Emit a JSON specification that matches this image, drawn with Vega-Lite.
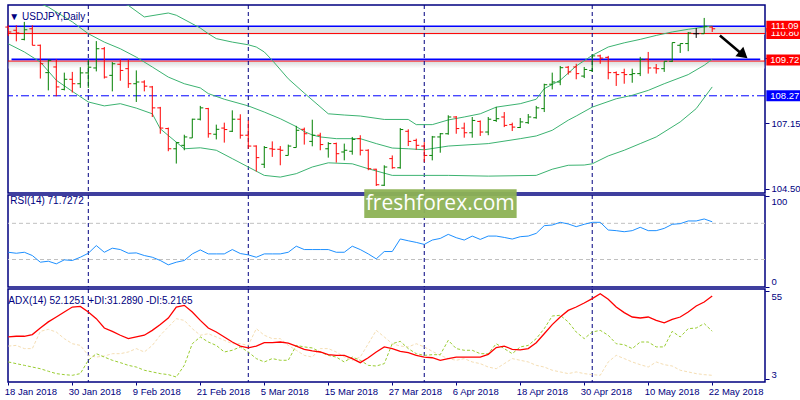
{
  "$schema": "https://vega.github.io/schema/vega-lite/v6.json",
  "description": "USDJPY daily bars with Bollinger bands, RSI(14) and ADX(14)",
  "background": "white",
  "padding": {"left": 3, "top": 3, "right": 0, "bottom": 0},
  "spacing": 2,
  "bounds": "flush",
  "config": {
    "view": {"stroke": "#000080", "strokeWidth": 1.5},
    "font": "Liberation Sans",
    "axis": {"labelFont": "Liberation Sans", "labelFontSize": 9.5, "labelColor": "#000080", "tickColor": "#000080", "domain": false, "grid": false},
    "title": {"font": "Liberation Sans", "fontSize": 10, "fontWeight": "normal", "color": "#000080", "anchor": "start", "baseline": "top"}
  },
  "resolve": {"scale": {"x": "independent", "y": "independent"}},
  "datasets": {
    "bars": [
      {"i":0,"d":"2018-01-18","o":111.06,"h":111.13,"l":110.70,"c":110.86,"rsi":38.0,"adx":27.9,"pdi":13.1,"mdi":22.5},
      {"i":1,"d":"2018-01-19","o":110.93,"h":111.13,"l":110.48,"c":110.82,"rsi":36.9,"adx":28.3,"pdi":12.1,"mdi":22.9},
      {"i":2,"d":"2018-01-22","o":110.56,"h":111.27,"l":110.52,"c":110.95,"rsi":38.0,"adx":28.3,"pdi":11.1,"mdi":21.0},
      {"i":3,"d":"2018-01-23","o":110.99,"h":111.13,"l":110.32,"c":110.32,"rsi":34.4,"adx":29.3,"pdi":10.1,"mdi":21.0},
      {"i":4,"d":"2018-01-24","o":110.32,"h":110.35,"l":108.97,"c":109.57,"rsi":27.0,"adx":33.2,"pdi":9.1,"mdi":31.2},
      {"i":5,"d":"2018-01-25","o":109.21,"h":109.75,"l":108.49,"c":109.71,"rsi":28.1,"adx":36.8,"pdi":7.6,"mdi":32.4},
      {"i":6,"d":"2018-01-26","o":109.44,"h":109.75,"l":108.25,"c":108.63,"rsi":25.2,"adx":39.7,"pdi":6.2,"mdi":30.8},
      {"i":7,"d":"2018-01-29","o":108.53,"h":109.21,"l":108.49,"c":108.94,"rsi":29.6,"adx":42.7,"pdi":5.6,"mdi":26.9},
      {"i":8,"d":"2018-01-30","o":108.94,"h":109.24,"l":108.40,"c":108.76,"rsi":28.9,"adx":45.6,"pdi":5.2,"mdi":23.9},
      {"i":9,"d":"2018-01-31","o":108.76,"h":109.43,"l":108.59,"c":109.20,"rsi":32.5,"adx":46.0,"pdi":6.2,"mdi":22.9},
      {"i":10,"d":"2018-02-01","o":109.20,"h":109.75,"l":108.59,"c":109.43,"rsi":36.9,"adx":42.7,"pdi":14.1,"mdi":17.0},
      {"i":11,"d":"2018-02-02","o":109.40,"h":110.49,"l":109.26,"c":110.18,"rsi":45.4,"adx":38.7,"pdi":18.0,"mdi":16.0},
      {"i":12,"d":"2018-02-05","o":110.18,"h":110.25,"l":108.97,"c":109.03,"rsi":38.0,"adx":33.2,"pdi":16.0,"mdi":16.6},
      {"i":13,"d":"2018-02-06","o":109.10,"h":109.64,"l":108.45,"c":109.57,"rsi":42.5,"adx":31.2,"pdi":14.1,"mdi":18.0},
      {"i":14,"d":"2018-02-07","o":109.55,"h":109.75,"l":108.88,"c":109.30,"rsi":41.0,"adx":28.9,"pdi":12.7,"mdi":18.0},
      {"i":15,"d":"2018-02-08","o":109.37,"h":109.75,"l":108.59,"c":108.76,"rsi":36.9,"adx":26.9,"pdi":11.1,"mdi":19.0},
      {"i":16,"d":"2018-02-09","o":108.76,"h":109.30,"l":108.02,"c":108.83,"rsi":37.3,"adx":27.9,"pdi":10.1,"mdi":21.0},
      {"i":17,"d":"2018-02-12","o":108.83,"h":108.90,"l":108.45,"c":108.66,"rsi":34.4,"adx":28.9,"pdi":8.2,"mdi":19.0},
      {"i":18,"d":"2018-02-13","o":108.63,"h":108.67,"l":107.41,"c":107.78,"rsi":32.5,"adx":31.8,"pdi":7.2,"mdi":22.9},
      {"i":19,"d":"2018-02-14","o":107.78,"h":107.82,"l":106.73,"c":106.96,"rsi":28.9,"adx":35.2,"pdi":6.2,"mdi":28.9},
      {"i":20,"d":"2018-02-15","o":106.94,"h":106.98,"l":106.02,"c":106.12,"rsi":24.1,"adx":39.1,"pdi":5.6,"mdi":33.8},
      {"i":21,"d":"2018-02-16","o":106.12,"h":106.39,"l":105.52,"c":106.37,"rsi":27.0,"adx":45.6,"pdi":4.2,"mdi":38.7},
      {"i":22,"d":"2018-02-19","o":106.26,"h":106.69,"l":106.06,"c":106.60,"rsi":28.9,"adx":46.6,"pdi":11.1,"mdi":37.7},
      {"i":23,"d":"2018-02-20","o":106.56,"h":107.34,"l":106.56,"c":107.32,"rsi":36.2,"adx":42.7,"pdi":23.9,"mdi":32.8},
      {"i":24,"d":"2018-02-21","o":107.32,"h":107.86,"l":107.27,"c":107.78,"rsi":40.6,"adx":37.7,"pdi":27.9,"mdi":28.9},
      {"i":25,"d":"2018-02-22","o":107.75,"h":107.78,"l":106.57,"c":106.73,"rsi":36.2,"adx":33.2,"pdi":24.9,"mdi":29.8},
      {"i":26,"d":"2018-02-23","o":106.71,"h":107.10,"l":106.50,"c":106.91,"rsi":36.2,"adx":30.8,"pdi":22.9,"mdi":27.9},
      {"i":27,"d":"2018-02-26","o":106.96,"h":107.18,"l":106.37,"c":106.90,"rsi":36.2,"adx":27.9,"pdi":19.0,"mdi":25.9},
      {"i":28,"d":"2018-02-27","o":106.83,"h":107.68,"l":106.80,"c":107.32,"rsi":41.0,"adx":24.9,"pdi":20.0,"mdi":23.9},
      {"i":29,"d":"2018-02-28","o":107.32,"h":107.52,"l":106.53,"c":106.67,"rsi":36.6,"adx":22.5,"pdi":22.0,"mdi":23.9},
      {"i":30,"d":"2018-03-01","o":106.67,"h":107.27,"l":106.12,"c":106.23,"rsi":35.1,"adx":21.4,"pdi":19.0,"mdi":22.9},
      {"i":31,"d":"2018-03-02","o":106.23,"h":106.26,"l":105.20,"c":105.76,"rsi":32.5,"adx":22.5,"pdi":15.1,"mdi":32.8},
      {"i":32,"d":"2018-03-05","o":105.49,"h":106.23,"l":105.34,"c":106.17,"rsi":36.2,"adx":24.5,"pdi":13.1,"mdi":28.9},
      {"i":33,"d":"2018-03-06","o":106.12,"h":106.42,"l":105.79,"c":106.10,"rsi":36.2,"adx":24.5,"pdi":15.1,"mdi":26.9},
      {"i":34,"d":"2018-03-07","o":106.10,"h":106.23,"l":105.45,"c":106.06,"rsi":36.2,"adx":24.9,"pdi":14.1,"mdi":26.9},
      {"i":35,"d":"2018-03-08","o":105.85,"h":106.29,"l":105.85,"c":106.23,"rsi":38.0,"adx":24.3,"pdi":14.1,"mdi":22.9},
      {"i":36,"d":"2018-03-09","o":106.17,"h":107.05,"l":106.17,"c":106.87,"rsi":44.7,"adx":22.5,"pdi":22.9,"mdi":20.0},
      {"i":37,"d":"2018-03-12","o":106.91,"h":106.98,"l":106.29,"c":106.73,"rsi":41.0,"adx":20.6,"pdi":22.0,"mdi":17.0},
      {"i":38,"d":"2018-03-13","o":106.42,"h":107.30,"l":106.22,"c":106.67,"rsi":41.0,"adx":19.6,"pdi":21.4,"mdi":16.0},
      {"i":39,"d":"2018-03-14","o":106.67,"h":106.77,"l":106.06,"c":106.29,"rsi":41.0,"adx":19.0,"pdi":19.0,"mdi":21.0},
      {"i":40,"d":"2018-03-15","o":106.12,"h":106.39,"l":105.76,"c":106.33,"rsi":41.0,"adx":17.4,"pdi":17.0,"mdi":21.0},
      {"i":41,"d":"2018-03-16","o":106.33,"h":106.37,"l":105.56,"c":105.92,"rsi":38.0,"adx":17.0,"pdi":16.0,"mdi":19.0},
      {"i":42,"d":"2018-03-19","o":105.99,"h":106.33,"l":105.65,"c":106.06,"rsi":38.0,"adx":17.0,"pdi":13.1,"mdi":16.0},
      {"i":43,"d":"2018-03-20","o":106.02,"h":106.60,"l":105.88,"c":106.50,"rsi":44.7,"adx":15.1,"pdi":16.0,"mdi":14.1},
      {"i":44,"d":"2018-03-21","o":106.53,"h":106.67,"l":105.85,"c":106.06,"rsi":41.0,"adx":12.7,"pdi":14.1,"mdi":16.0},
      {"i":45,"d":"2018-03-22","o":106.06,"h":106.10,"l":105.25,"c":105.31,"rsi":36.2,"adx":15.6,"pdi":11.1,"mdi":23.9},
      {"i":46,"d":"2018-03-23","o":105.29,"h":105.31,"l":104.61,"c":104.66,"rsi":30.7,"adx":19.0,"pdi":10.7,"mdi":31.8},
      {"i":47,"d":"2018-03-26","o":104.64,"h":105.45,"l":104.61,"c":105.38,"rsi":38.8,"adx":22.0,"pdi":12.1,"mdi":27.9},
      {"i":48,"d":"2018-03-27","o":105.72,"h":105.85,"l":105.31,"c":105.35,"rsi":38.8,"adx":21.0,"pdi":23.9,"mdi":23.9},
      {"i":49,"d":"2018-03-28","o":105.35,"h":106.96,"l":105.31,"c":106.90,"rsi":52.7,"adx":19.4,"pdi":25.3,"mdi":22.5},
      {"i":50,"d":"2018-03-29","o":106.83,"h":106.91,"l":106.23,"c":106.42,"rsi":50.7,"adx":18.6,"pdi":21.0,"mdi":22.0},
      {"i":51,"d":"2018-03-30","o":106.46,"h":106.53,"l":106.08,"c":106.26,"rsi":48.9,"adx":17.0,"pdi":18.0,"mdi":23.9},
      {"i":52,"d":"2018-04-02","o":106.23,"h":106.39,"l":105.58,"c":105.85,"rsi":46.7,"adx":16.0,"pdi":17.0,"mdi":22.0},
      {"i":53,"d":"2018-04-03","o":105.85,"h":106.64,"l":105.65,"c":106.60,"rsi":51.5,"adx":15.6,"pdi":17.4,"mdi":19.4},
      {"i":54,"d":"2018-04-04","o":106.60,"h":106.76,"l":105.96,"c":106.73,"rsi":53.3,"adx":14.1,"pdi":17.4,"mdi":17.0},
      {"i":55,"d":"2018-04-05","o":106.73,"h":107.48,"l":106.69,"c":107.41,"rsi":57.8,"adx":15.1,"pdi":25.9,"mdi":15.1},
      {"i":56,"d":"2018-04-06","o":107.41,"h":107.45,"l":106.73,"c":106.94,"rsi":54.1,"adx":16.0,"pdi":21.0,"mdi":14.1},
      {"i":57,"d":"2018-04-09","o":106.96,"h":107.18,"l":106.57,"c":106.77,"rsi":51.5,"adx":16.0,"pdi":20.0,"mdi":15.1},
      {"i":58,"d":"2018-04-10","o":106.77,"h":107.41,"l":106.57,"c":107.27,"rsi":55.9,"adx":16.0,"pdi":20.0,"mdi":13.1},
      {"i":59,"d":"2018-04-11","o":107.23,"h":107.27,"l":106.64,"c":106.80,"rsi":52.2,"adx":16.0,"pdi":18.0,"mdi":12.1},
      {"i":60,"d":"2018-04-12","o":106.80,"h":107.41,"l":106.67,"c":107.32,"rsi":55.9,"adx":17.6,"pdi":18.0,"mdi":10.1},
      {"i":61,"d":"2018-04-13","o":107.27,"h":107.82,"l":107.21,"c":107.34,"rsi":55.9,"adx":21.6,"pdi":23.9,"mdi":9.1},
      {"i":62,"d":"2018-04-16","o":107.41,"h":107.61,"l":107.00,"c":107.07,"rsi":54.4,"adx":22.5,"pdi":21.0,"mdi":12.1},
      {"i":63,"d":"2018-04-17","o":107.10,"h":107.18,"l":106.84,"c":107.00,"rsi":52.6,"adx":20.6,"pdi":18.0,"mdi":15.1},
      {"i":64,"d":"2018-04-18","o":106.98,"h":107.37,"l":106.96,"c":107.21,"rsi":55.2,"adx":20.2,"pdi":22.0,"mdi":14.1},
      {"i":65,"d":"2018-04-19","o":107.18,"h":107.53,"l":107.13,"c":107.41,"rsi":55.9,"adx":21.0,"pdi":22.9,"mdi":13.1},
      {"i":66,"d":"2018-04-20","o":107.38,"h":107.86,"l":107.34,"c":107.78,"rsi":58.9,"adx":24.5,"pdi":26.9,"mdi":11.1},
      {"i":67,"d":"2018-04-23","o":107.75,"h":108.76,"l":107.61,"c":108.72,"rsi":67.4,"adx":29.8,"pdi":32.8,"mdi":10.1},
      {"i":68,"d":"2018-04-24","o":108.74,"h":109.21,"l":108.53,"c":108.83,"rsi":68.1,"adx":35.2,"pdi":40.3,"mdi":8.2},
      {"i":69,"d":"2018-04-25","o":108.83,"h":109.48,"l":108.70,"c":109.41,"rsi":71.1,"adx":39.7,"pdi":40.7,"mdi":7.2},
      {"i":70,"d":"2018-04-26","o":109.43,"h":109.48,"l":109.13,"c":109.24,"rsi":69.3,"adx":43.6,"pdi":36.8,"mdi":6.2},
      {"i":71,"d":"2018-04-27","o":109.44,"h":109.57,"l":108.94,"c":109.17,"rsi":66.3,"adx":45.6,"pdi":30.8,"mdi":7.2},
      {"i":72,"d":"2018-04-30","o":109.07,"h":109.44,"l":108.99,"c":109.34,"rsi":68.9,"adx":48.0,"pdi":26.9,"mdi":6.2},
      {"i":73,"d":"2018-05-01","o":109.30,"h":109.94,"l":109.24,"c":109.89,"rsi":71.1,"adx":50.6,"pdi":30.8,"mdi":5.6},
      {"i":74,"d":"2018-05-02","o":109.89,"h":109.94,"l":109.57,"c":109.80,"rsi":71.1,"adx":53.5,"pdi":31.8,"mdi":5.2},
      {"i":75,"d":"2018-05-03","o":109.83,"h":109.89,"l":108.94,"c":109.21,"rsi":62.6,"adx":50.2,"pdi":28.9,"mdi":13.1},
      {"i":76,"d":"2018-05-04","o":109.21,"h":109.26,"l":108.67,"c":109.13,"rsi":61.9,"adx":45.6,"pdi":23.9,"mdi":17.0},
      {"i":77,"d":"2018-05-07","o":109.21,"h":109.37,"l":108.76,"c":109.13,"rsi":60.7,"adx":42.3,"pdi":23.3,"mdi":15.1},
      {"i":78,"d":"2018-05-08","o":109.13,"h":109.37,"l":108.80,"c":109.17,"rsi":61.9,"adx":39.7,"pdi":21.0,"mdi":13.1},
      {"i":79,"d":"2018-05-09","o":109.17,"h":109.85,"l":109.07,"c":109.75,"rsi":65.6,"adx":39.1,"pdi":24.9,"mdi":11.5},
      {"i":80,"d":"2018-05-10","o":109.75,"h":110.05,"l":109.17,"c":109.40,"rsi":61.9,"adx":39.7,"pdi":24.9,"mdi":10.1},
      {"i":81,"d":"2018-05-11","o":109.40,"h":109.56,"l":109.17,"c":109.37,"rsi":61.9,"adx":37.7,"pdi":22.0,"mdi":13.1},
      {"i":82,"d":"2018-05-14","o":109.37,"h":109.67,"l":109.24,"c":109.67,"rsi":64.4,"adx":36.3,"pdi":22.0,"mdi":11.5},
      {"i":83,"d":"2018-05-15","o":109.67,"h":110.43,"l":109.64,"c":110.43,"rsi":68.9,"adx":38.3,"pdi":31.2,"mdi":10.7},
      {"i":84,"d":"2018-05-16","o":110.32,"h":110.39,"l":110.01,"c":110.39,"rsi":69.6,"adx":39.7,"pdi":27.9,"mdi":8.2},
      {"i":85,"d":"2018-05-17","o":110.39,"h":110.86,"l":110.08,"c":110.82,"rsi":72.6,"adx":42.7,"pdi":32.8,"mdi":7.2},
      {"i":86,"d":"2018-05-18","o":110.79,"h":111.02,"l":110.62,"c":110.79,"rsi":72.6,"adx":46.2,"pdi":33.2,"mdi":6.2},
      {"i":87,"d":"2018-05-21","o":110.79,"h":111.43,"l":110.79,"c":111.09,"rsi":74.8,"adx":48.6,"pdi":35.8,"mdi":5.6},
      {"i":88,"d":"2018-05-22","o":111.06,"h":111.09,"l":110.86,"c":110.99,"rsi":71.7,"adx":52.1,"pdi":31.3,"mdi":5.2}
    ],
    "bb": [
      {"band":"upper","i":0,"v":114.6},{"band":"upper","i":6,"v":113.3},{"band":"upper","i":11,"v":112.4},{"band":"upper","i":15,"v":111.94},{"band":"upper","i":17,"v":111.47},{"band":"upper","i":20,"v":111.63},{"band":"upper","i":21,"v":111.54},{"band":"upper","i":24,"v":111.02},{"band":"upper","i":25,"v":110.79},{"band":"upper","i":26,"v":110.59},{"band":"upper","i":28,"v":110.45},{"band":"upper","i":30,"v":110.34},{"band":"upper","i":31,"v":110.25},{"band":"upper","i":32,"v":110.05},{"band":"upper","i":33,"v":109.71},{"band":"upper","i":35,"v":108.96},{"band":"upper","i":37,"v":108.38},{"band":"upper","i":40,"v":107.54},{"band":"upper","i":42,"v":107.49},{"band":"upper","i":44,"v":107.45},{"band":"upper","i":47,"v":107.31},{"band":"upper","i":50,"v":107.31},{"band":"upper","i":51,"v":107.10},{"band":"upper","i":53,"v":107.10},{"band":"upper","i":55,"v":107.29},{"band":"upper","i":57,"v":107.41},{"band":"upper","i":59,"v":107.54},{"band":"upper","i":61,"v":107.81},{"band":"upper","i":64,"v":107.95},{"band":"upper","i":66,"v":108.13},{"band":"upper","i":67,"v":108.56},{"band":"upper","i":69,"v":108.90},{"band":"upper","i":71,"v":109.48},{"band":"upper","i":73,"v":109.91},{"band":"upper","i":75,"v":110.25},{"band":"upper","i":77,"v":110.42},{"band":"upper","i":79,"v":110.56},{"band":"upper","i":81,"v":110.72},{"band":"upper","i":83,"v":110.86},{"band":"upper","i":85,"v":110.97},{"band":"upper","i":87,"v":111.06},{"band":"upper","i":88,"v":111.10},
      {"band":"middle","i":0,"v":112.56},{"band":"middle","i":5,"v":111.87},{"band":"middle","i":8,"v":111.27},{"band":"middle","i":10,"v":110.79},{"band":"middle","i":12,"v":110.45},{"band":"middle","i":14,"v":110.18},{"band":"middle","i":16,"v":109.84},{"band":"middle","i":18,"v":109.44},{"band":"middle","i":20,"v":109.03},{"band":"middle","i":22,"v":108.76},{"band":"middle","i":24,"v":108.59},{"band":"middle","i":25,"v":108.36},{"band":"middle","i":27,"v":108.13},{"band":"middle","i":30,"v":107.86},{"band":"middle","i":32,"v":107.61},{"band":"middle","i":34,"v":107.34},{"band":"middle","i":36,"v":107.02},{"band":"middle","i":37,"v":106.82},{"band":"middle","i":38,"v":106.68},{"band":"middle","i":39,"v":106.60},{"band":"middle","i":41,"v":106.53},{"band":"middle","i":44,"v":106.53},{"band":"middle","i":46,"v":106.33},{"band":"middle","i":48,"v":106.15},{"band":"middle","i":50,"v":106.12},{"band":"middle","i":52,"v":106.08},{"band":"middle","i":55,"v":106.23},{"band":"middle","i":60,"v":106.33},{"band":"middle","i":64,"v":106.53},{"band":"middle","i":66,"v":106.64},{"band":"middle","i":68,"v":106.87},{"band":"middle","i":70,"v":107.28},{"band":"middle","i":71,"v":107.45},{"band":"middle","i":73,"v":107.81},{"band":"middle","i":76,"v":108.15},{"band":"middle","i":78,"v":108.29},{"band":"middle","i":80,"v":108.49},{"band":"middle","i":82,"v":108.76},{"band":"middle","i":85,"v":109.13},{"band":"middle","i":87,"v":109.51},{"band":"middle","i":88,"v":109.75},
      {"band":"lower","i":0,"v":110.38},{"band":"lower","i":2,"v":110.05},{"band":"lower","i":4,"v":109.64},{"band":"lower","i":6,"v":108.90},{"band":"lower","i":8,"v":108.45},{"band":"lower","i":10,"v":108.02},{"band":"lower","i":12,"v":107.86},{"band":"lower","i":14,"v":107.95},{"band":"lower","i":16,"v":107.77},{"band":"lower","i":18,"v":107.54},{"band":"lower","i":19,"v":106.93},{"band":"lower","i":21,"v":106.39},{"band":"lower","i":22,"v":106.12},{"band":"lower","i":24,"v":106.16},{"band":"lower","i":26,"v":106.06},{"band":"lower","i":28,"v":105.72},{"band":"lower","i":30,"v":105.38},{"band":"lower","i":32,"v":105.04},{"band":"lower","i":34,"v":104.97},{"band":"lower","i":36,"v":105.11},{"band":"lower","i":38,"v":105.38},{"band":"lower","i":40,"v":105.55},{"band":"lower","i":43,"v":105.51},{"band":"lower","i":45,"v":105.31},{"band":"lower","i":48,"v":105.04},{"band":"lower","i":55,"v":105.04},{"band":"lower","i":60,"v":105.01},{"band":"lower","i":66,"v":105.04},{"band":"lower","i":68,"v":105.29},{"band":"lower","i":70,"v":105.45},{"band":"lower","i":72,"v":105.46},{"band":"lower","i":73,"v":105.51},{"band":"lower","i":75,"v":105.83},{"band":"lower","i":77,"v":106.06},{"band":"lower","i":79,"v":106.33},{"band":"lower","i":81,"v":106.60},{"band":"lower","i":84,"v":107.21},{"band":"lower","i":86,"v":107.75},{"band":"lower","i":88,"v":108.63}
    ],
    "months": [
      {"i":10,"d":"2018-02-01"},{"i":30,"d":"2018-03-01"},{"i":52,"d":"2018-04-02"},{"i":73,"d":"2018-05-01"}
    ]
  },
  "vconcat": [
    {
      "width": 757,
      "height": 188,
      "title": {"text": "▼ USDJPY,Daily", "offset": -17, "dx": 4},
      "layer": [
        {
          "data": {"values": [{}]},
          "mark": {"type": "rect", "color": "#dcdcdc", "opacity": 0.8},
          "encoding": {
            "x": {"datum": -0.04, "type": "quantitative", "scale": {"domain": [-0.04, 94.6], "nice": false, "zero": false}, "axis": null},
            "x2": {"datum": 94.6},
            "y": {"datum": 111.09, "type": "quantitative", "scale": {"domain": [104.325, 111.955], "nice": false, "zero": false},
              "axis": {"orient": "right", "title": null, "values": [104.5, 105.85, 107.15, 108.5, 109.8, 111.15], "format": ".2f", "tickSize": 4, "labelPadding": 2}},
            "y2": {"datum": 110.76}
          }
        },
        {
          "data": {"values": [{}]},
          "mark": {"type": "rect", "opacity": 0.35, "color": {"gradient": "linear", "x1": 0, "y1": 0, "x2": 0, "y2": 1, "stops": [{"offset": 0, "color": "#999999"}, {"offset": 1, "color": "#ffffff"}]}},
          "encoding": {"x": {"datum": -0.04}, "x2": {"datum": 94.6}, "y": {"datum": 109.67}, "y2": {"datum": 109.38}}
        },
        {
          "data": {"values": [{}]},
          "mark": {"type": "rule", "color": "#0000ff", "strokeWidth": 1, "strokeDash": [8, 3, 2, 3]},
          "encoding": {"y": {"datum": 108.27}}
        },
        {
          "data": {"values": [{}]},
          "mark": {"type": "rule", "color": "#ff0000", "strokeWidth": 1},
          "encoding": {"y": {"datum": 110.80}}
        },
        {
          "data": {"values": [{}]},
          "mark": {"type": "rule", "color": "#0000ff", "strokeWidth": 1.5},
          "encoding": {"y": {"datum": 111.09}}
        },
        {
          "data": {"values": [{}]},
          "mark": {"type": "rule", "color": "#ff0000", "strokeWidth": 1},
          "encoding": {"y": {"datum": 109.68}}
        },
        {
          "data": {"values": [{}]},
          "mark": {"type": "rule", "color": "#0000ff", "strokeWidth": 1.8},
          "encoding": {"x": {"datum": 0.4}, "x2": {"datum": 94.0}, "y": {"datum": 109.75}}
        },
        {
          "data": {"name": "months"},
          "mark": {"type": "rule", "color": "#000080", "strokeWidth": 1, "strokeDash": [4, 3]},
          "encoding": {"x": {"field": "i", "type": "quantitative"}}
        },
        {
          "data": {"name": "bb"},
          "mark": {"type": "line", "color": "#3cb371", "strokeWidth": 1, "clip": true},
          "encoding": {
            "x": {"field": "i", "type": "quantitative"},
            "y": {"field": "v", "type": "quantitative"},
            "detail": {"field": "band"}
          }
        },
        {
          "data": {"name": "bars"},
          "mark": {"type": "rule", "strokeWidth": 1},
          "encoding": {
            "x": {"field": "i", "type": "quantitative"},
            "y": {"field": "l", "type": "quantitative"},
            "y2": {"field": "h"},
            "color": {"condition": [{"test": "datum.c > datum.o", "value": "#008000"}, {"test": "datum.c < datum.o", "value": "#ff0000"}], "value": "#000000"}
          }
        },
        {
          "data": {"name": "bars"},
          "mark": {"type": "tick", "orient": "horizontal", "size": 3, "thickness": 1, "xOffset": -1.5, "opacity": 1},
          "encoding": {
            "x": {"field": "i", "type": "quantitative"},
            "y": {"field": "o", "type": "quantitative"},
            "color": {"condition": [{"test": "datum.c > datum.o", "value": "#008000"}, {"test": "datum.c < datum.o", "value": "#ff0000"}], "value": "#000000"}
          }
        },
        {
          "data": {"name": "bars"},
          "mark": {"type": "tick", "orient": "horizontal", "size": 3, "thickness": 1, "xOffset": 1.5, "opacity": 1},
          "encoding": {
            "x": {"field": "i", "type": "quantitative"},
            "y": {"field": "c", "type": "quantitative"},
            "color": {"condition": [{"test": "datum.c > datum.o", "value": "#008000"}, {"test": "datum.c < datum.o", "value": "#ff0000"}], "value": "#000000"}
          }
        },
        {
          "data": {"values": [{}]},
          "mark": {"type": "rule", "color": "#000000", "strokeWidth": 2.5},
          "encoding": {"x": {"datum": 88.96}, "y": {"datum": 110.72}, "x2": {"datum": 91.6}, "y2": {"datum": 110.0}}
        },
        {
          "data": {"values": [{}]},
          "mark": {"type": "point", "shape": "triangle-right", "filled": true, "color": "#000000", "opacity": 1, "size": 150, "angle": 40},
          "encoding": {"x": {"datum": 91.9}, "y": {"datum": 109.93}}
        },
        {
          "data": {"values": [{}]},
          "layer": [
            {"mark": {"type": "tick", "orient": "horizontal", "size": 37, "thickness": 11, "color": "#ff0000", "opacity": 1}, "encoding": {"x": {"datum": 97.08}, "y": {"datum": 110.80}}},
            {"mark": {"type": "text", "text": "110.80", "color": "white", "fontSize": 9.5, "align": "center", "baseline": "middle"}, "encoding": {"x": {"datum": 97.08}, "y": {"datum": 110.80}}},
            {"mark": {"type": "tick", "orient": "horizontal", "size": 37, "thickness": 11, "color": "#ff0000", "opacity": 1}, "encoding": {"x": {"datum": 97.08}, "y": {"datum": 111.09}}},
            {"mark": {"type": "text", "text": "111.09", "color": "white", "fontSize": 9.5, "align": "center", "baseline": "middle"}, "encoding": {"x": {"datum": 97.08}, "y": {"datum": 111.09}}},
            {"mark": {"type": "tick", "orient": "horizontal", "size": 37, "thickness": 11, "color": "#ff0000", "opacity": 1}, "encoding": {"x": {"datum": 97.08}, "y": {"datum": 109.72}}},
            {"mark": {"type": "text", "text": "109.72", "color": "white", "fontSize": 9.5, "align": "center", "baseline": "middle"}, "encoding": {"x": {"datum": 97.08}, "y": {"datum": 109.72}}},
            {"mark": {"type": "tick", "orient": "horizontal", "size": 37, "thickness": 11, "color": "#0000ff", "opacity": 1}, "encoding": {"x": {"datum": 97.08}, "y": {"datum": 108.27}}},
            {"mark": {"type": "text", "text": "108.27", "color": "white", "fontSize": 9.5, "align": "center", "baseline": "middle"}, "encoding": {"x": {"datum": 97.08}, "y": {"datum": 108.27}}}
          ]
        }
      ]
    },
    {
      "width": 757,
      "height": 92,
      "title": {"text": "RSI(14) 71.7272", "offset": -17, "dx": 4},
      "layer": [
        {
          "data": {"values": [{}]},
          "mark": {"type": "rule", "color": "#c0c0c0", "strokeWidth": 1, "strokeDash": [4, 3]},
          "encoding": {"y": {"datum": 30, "type": "quantitative", "scale": {"domain": [-0.4, 101.3], "nice": false, "zero": false},
            "axis": {"orient": "right", "title": null, "values": [0, 30, 70, 100], "labelFlush": 3, "tickSize": 4, "labelPadding": 2}}}
        },
        {
          "data": {"values": [{}]},
          "mark": {"type": "rule", "color": "#c0c0c0", "strokeWidth": 1, "strokeDash": [4, 3]},
          "encoding": {"y": {"datum": 70}}
        },
        {
          "data": {"name": "months"},
          "mark": {"type": "rule", "color": "#000080", "strokeWidth": 1, "strokeDash": [4, 3]},
          "encoding": {"x": {"field": "i", "type": "quantitative", "scale": {"domain": [-0.04, 94.6], "nice": false, "zero": false}, "axis": null}}
        },
        {
          "data": {"name": "bars"},
          "mark": {"type": "line", "color": "#1e90ff", "strokeWidth": 1},
          "encoding": {
            "x": {"field": "i", "type": "quantitative"},
            "y": {"field": "rsi", "type": "quantitative"}
          }
        },
        {
          "data": {"values": [{}]},
          "mark": {"type": "rect", "color": "#8db255", "opacity": 0.95, "clip": false},
          "encoding": {"x": {"datum": 44.5}, "x2": {"datum": 63.55}, "y": {"datum": 107.6}, "y2": {"datum": 75.9}}
        },
        {
          "data": {"values": [{}]},
          "mark": {"type": "text", "text": "freshforex.com", "color": "white", "fontSize": 21, "align": "center", "baseline": "middle", "font": "Open Sans"},
          "encoding": {"x": {"datum": 54.0}, "y": {"datum": 91.4}}
        }
      ]
    },
    {
      "width": 757,
      "height": 93,
      "title": {"text": "ADX(14) 52.1251 +DI:31.2890 -DI:5.2165", "offset": -17, "dx": 4},
      "layer": [
        {
          "data": {"name": "months"},
          "mark": {"type": "rule", "color": "#000080", "strokeWidth": 1, "strokeDash": [4, 3]},
          "encoding": {"x": {"field": "i", "type": "quantitative", "scale": {"domain": [-0.04, 94.6], "nice": false, "zero": false},
            "axis": {"orient": "bottom", "title": null, "values": [0, 8, 16, 24, 32, 40, 48, 56, 64, 72, 80, 88], "labelAlign": "left", "labelOffset": -4, "tickSize": 3, "labelPadding": 1, "labelOverlap": false, "labelBound": false,
              "labelExpr": "['18 Jan 2018','30 Jan 2018','9 Feb 2018','21 Feb 2018','5 Mar 2018','15 Mar 2018','27 Mar 2018','6 Apr 2018','18 Apr 2018','30 Apr 2018','10 May 2018','22 May 2018'][round(datum.value / 8)]"}}}
        },
        {
          "data": {"name": "bars"},
          "mark": {"type": "line", "color": "#f5deb3", "strokeWidth": 1, "strokeDash": [3, 2]},
          "encoding": {
            "x": {"field": "i", "type": "quantitative"},
            "y": {"field": "mdi", "type": "quantitative", "scale": {"domain": [1.24, 56.27], "nice": false, "zero": false},
              "axis": {"orient": "right", "title": null, "values": [3, 55], "labelFlush": 4, "tickSize": 4, "labelPadding": 2}}
          }
        },
        {
          "data": {"name": "bars"},
          "mark": {"type": "line", "color": "#9acd32", "strokeWidth": 1, "strokeDash": [3, 2]},
          "encoding": {
            "x": {"field": "i", "type": "quantitative"},
            "y": {"field": "pdi", "type": "quantitative"}
          }
        },
        {
          "data": {"name": "bars"},
          "mark": {"type": "line", "color": "#ff0000", "strokeWidth": 1.3},
          "encoding": {
            "x": {"field": "i", "type": "quantitative"},
            "y": {"field": "adx", "type": "quantitative"}
          }
        }
      ]
    }
  ]
}
